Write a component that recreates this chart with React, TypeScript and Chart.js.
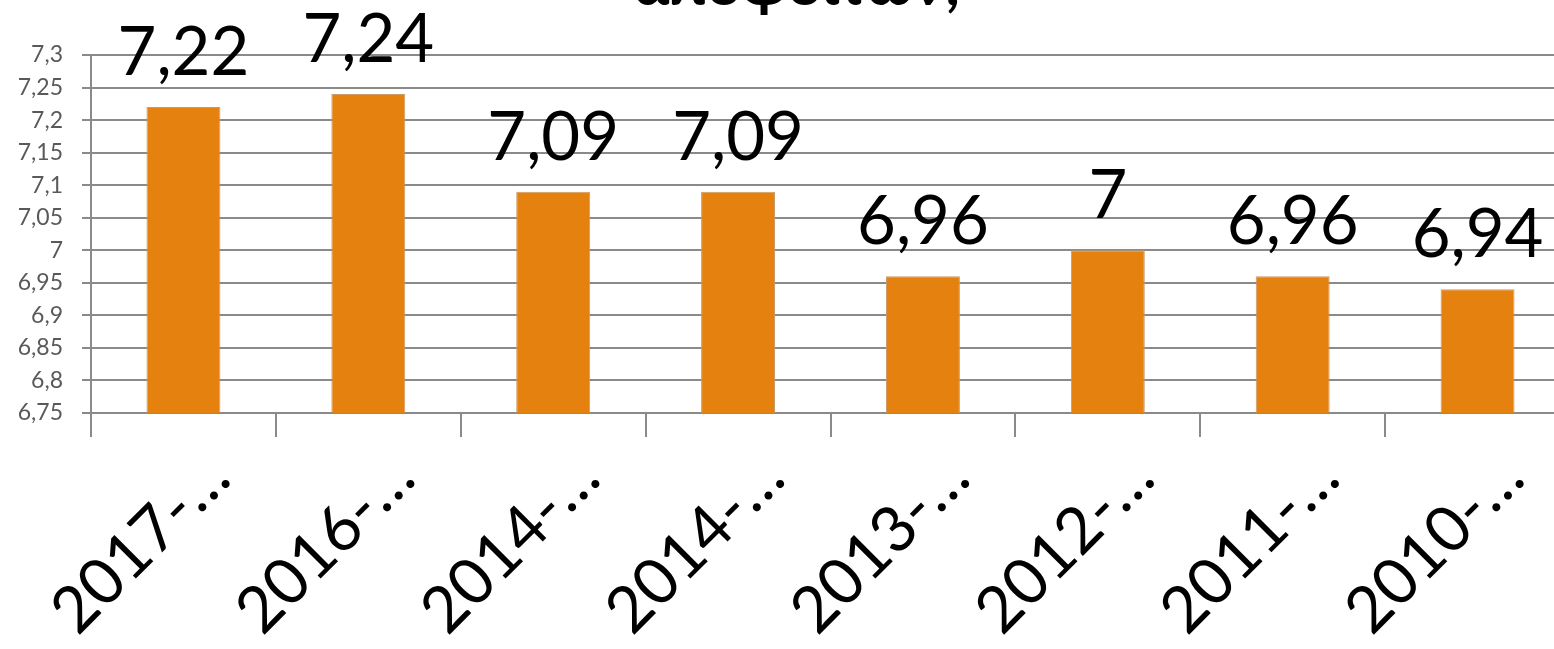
import React, { useEffect, useRef } from 'react';
import { Chart, registerables } from 'chart.js';

Chart.register(...registerables);

const categories = ['2017-…', '2016-…', '2014-…', '2014-…', '2013-…', '2012-…', '2011-…', '2010-…'];
const values = [7.22, 7.24, 7.09, 7.09, 6.96, 7, 6.96, 6.94];
const titleText = 'αποφοιτων;';
const yMin = 6.75;
const yMax = 7.3;
const yStep = 0.05;

const FONT = 'Lato, "Noto Sans", sans-serif';
const GRID = '#8a8a8a';

const fmt = (v: number) => String(Number(v.toFixed(2))).replace('.', ',');

const titlePlugin = {
  id: 'clippedTitle',
  afterDraw(chart: any) {
    const ctx = chart.ctx;
    ctx.save();
    ctx.font = `bold 60px ${FONT}`;
    ctx.fillStyle = '#000';
    ctx.textAlign = 'center';
    ctx.textBaseline = 'alphabetic';
    ctx.fillText(titleText, 797, 5);
    ctx.restore();
  },
};

const valueLabelPlugin = {
  id: 'valueLabels',
  afterDatasetsDraw(chart: any) {
    const ctx = chart.ctx;
    const meta = chart.getDatasetMeta(0);
    ctx.save();
    ctx.font = `67px ${FONT}`;
    ctx.fillStyle = '#000';
    ctx.textAlign = 'center';
    ctx.textBaseline = 'alphabetic';
    meta.data.forEach((bar: any, i: number) => {
      ctx.fillText(fmt(values[i]), bar.x, bar.y - 32);
    });
    ctx.restore();
  },
};

const xLabelPlugin = {
  id: 'xLabels',
  afterDraw(chart: any) {
    const ctx = chart.ctx;
    const scale = chart.scales.x;
    ctx.save();
    ctx.font = `64px ${FONT}`;
    ctx.fillStyle = '#000';
    ctx.textAlign = 'right';
    ctx.textBaseline = 'alphabetic';
    categories.forEach((lab, i) => {
      const x = scale.getPixelForTick(i) + 50;
      const y = scale.bottom - 649 + 481;
      ctx.save();
      ctx.translate(x, y);
      ctx.rotate(-Math.PI / 4);
      ctx.fillText(lab, 0, 0);
      ctx.restore();
    });
    ctx.restore();
  },
};

export default function App() {
  const ref = useRef<HTMLCanvasElement | null>(null);
  useEffect(() => {
    if (!ref.current) return;
    const chart = new Chart(ref.current, {
      type: 'bar',
      data: {
        labels: categories,
        datasets: [
          {
            data: values,
            backgroundColor: '#E5820F',
            borderColor: '#C99A6A',
            borderWidth: 1,
            barPercentage: 0.4,
            categoryPercentage: 1,
          },
        ],
      },
      options: {
        responsive: false,
        animation: false,
        layout: { padding: { top: 55, right: 30, left: 0, bottom: 0 } },
        plugins: {
          legend: { display: false },
          title: { display: false },
          tooltip: { enabled: false },
        },
        scales: {
          x: {
            offset: true,
            grid: {
              offset: true,
              drawOnChartArea: false,
              drawTicks: true,
              tickLength: 24,
              color: GRID,
              lineWidth: 2,
            },
            border: { color: GRID, width: 2 },
            ticks: {
              display: false,
              autoSkip: false,
            },
            afterFit(scale: any) {
              scale.height = 649 - 413;
            },
          },
          y: {
            min: yMin,
            max: yMax,
            grid: { color: GRID, lineWidth: 2, tickLength: 9 },
            border: { color: GRID, width: 2 },
            ticks: {
              stepSize: yStep,
              color: '#595959',
              font: { family: FONT, size: 23 },
              padding: 19,
              callback: (v: any) => fmt(Number(v)),
            },
            afterFit(scale: any) {
              scale.width = 91;
            },
          },
        },
      },
      plugins: [titlePlugin, valueLabelPlugin, xLabelPlugin],
    });
    return () => chart.destroy();
  }, []);
  return (
    <div style={{ position: 'fixed', left: 0, top: 0, width: 1554, height: 649, overflow: 'hidden', background: '#fff' }}>
      <canvas ref={ref} width={1600} height={649} style={{ position: 'absolute', left: 0, top: 0, width: 1600, height: 649 }} />
    </div>
  );
}
